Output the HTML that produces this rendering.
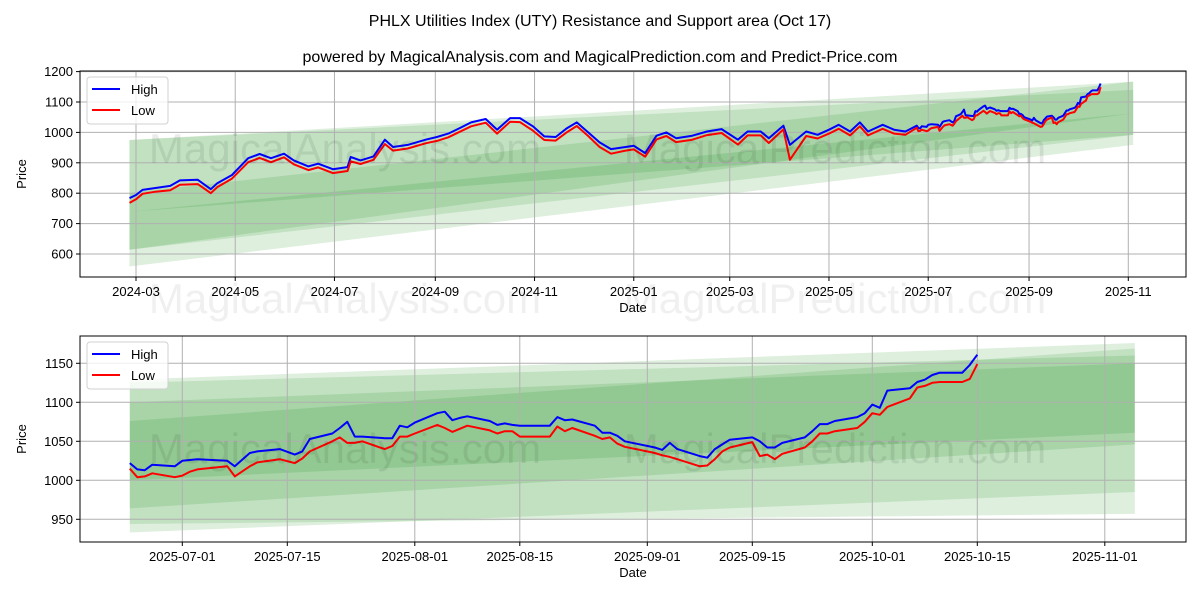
<!DOCTYPE html>
<html><head><meta charset="utf-8"><style>
body{margin:0;background:#fff;}
svg text{font-family:"Liberation Sans","DejaVu Sans",sans-serif;}
</style></head><body>
<svg id="c" width="1200" height="600" xmlns="http://www.w3.org/2000/svg"></svg>
<script>
const earlyDates=["2024-02-26","2024-03-01","2024-03-05","2024-03-13","2024-03-22","2024-03-28","2024-04-08","2024-04-16","2024-04-20","2024-04-29","2024-05-09","2024-05-16","2024-05-23","2024-05-31","2024-06-06","2024-06-15","2024-06-21","2024-06-30","2024-07-09","2024-07-11","2024-07-17","2024-07-25","2024-08-01","2024-08-06","2024-08-15","2024-08-26","2024-09-02","2024-09-09","2024-09-16","2024-09-23","2024-10-02","2024-10-09","2024-10-17","2024-10-23","2024-10-31","2024-11-07","2024-11-14","2024-11-21","2024-11-27","2024-12-04","2024-12-11","2024-12-18","2024-12-27","2025-01-01","2025-01-08","2025-01-15","2025-01-21","2025-01-27","2025-02-06","2025-02-15","2025-02-24","2025-03-06","2025-03-12","2025-03-20","2025-03-25","2025-04-03","2025-04-07","2025-04-17","2025-04-24","2025-05-01","2025-05-07","2025-05-14","2025-05-20","2025-05-25","2025-06-03","2025-06-10","2025-06-17"];
const earlyHigh=[784,794,811,817,824,842,844,813,833,860,915,929,915,930,908,888,897,879,886,919,908,921,976,952,959,976,985,996,1014,1033,1044,1009,1047,1047,1020,987,985,1014,1033,1000,967,945,952,956,932,989,1000,981,989,1003,1011,976,1003,1003,981,1022,959,1003,992,1009,1025,1003,1033,1003,1025,1009,1003];
const earlyLow=[768,780,798,805,810,828,830,800,820,848,902,916,902,918,895,876,885,866,873,905,896,910,962,940,947,964,972,984,1002,1020,1032,996,1035,1034,1006,975,973,1001,1021,988,952,930,940,944,920,977,988,968,976,991,998,960,990,990,965,1010,910,988,980,996,1012,990,1020,990,1012,996,992];
const recentDates=["2025-06-24","2025-06-25","2025-06-26","2025-06-27","2025-06-30","2025-07-01","2025-07-02","2025-07-03","2025-07-07","2025-07-08","2025-07-10","2025-07-11","2025-07-14","2025-07-16","2025-07-17","2025-07-18","2025-07-21","2025-07-22","2025-07-23","2025-07-24","2025-07-25","2025-07-28","2025-07-29","2025-07-30","2025-07-31","2025-08-01","2025-08-04","2025-08-05","2025-08-06","2025-08-07","2025-08-08","2025-08-11","2025-08-12","2025-08-13","2025-08-14","2025-08-15","2025-08-18","2025-08-19","2025-08-20","2025-08-21","2025-08-22","2025-08-25","2025-08-26","2025-08-27","2025-08-28","2025-08-29","2025-09-02","2025-09-03","2025-09-04","2025-09-05","2025-09-08","2025-09-09","2025-09-10","2025-09-11","2025-09-12","2025-09-15","2025-09-16","2025-09-17","2025-09-18","2025-09-19","2025-09-22","2025-09-23","2025-09-24","2025-09-25","2025-09-26","2025-09-29","2025-09-30","2025-10-01","2025-10-02","2025-10-03","2025-10-06","2025-10-07","2025-10-08","2025-10-09","2025-10-10","2025-10-13","2025-10-14","2025-10-15"];
const recentHigh=[1022,1014,1013,1020,1018,1025,1026,1027,1025,1018,1035,1037,1040,1033,1037,1053,1060,1067,1075,1056,1056,1054,1054,1070,1068,1074,1086,1088,1077,1080,1082,1076,1071,1073,1071,1070,1070,1070,1081,1077,1078,1070,1061,1061,1057,1050,1042,1039,1048,1040,1031,1029,1040,1046,1052,1055,1050,1042,1042,1048,1055,1063,1072,1072,1076,1081,1086,1097,1093,1115,1118,1126,1129,1135,1138,1138,1148,1161];
const recentLow=[1015,1004,1005,1009,1004,1006,1011,1014,1018,1005,1018,1023,1027,1022,1028,1037,1050,1055,1048,1048,1050,1040,1044,1056,1056,1060,1071,1067,1062,1066,1070,1064,1060,1063,1063,1056,1056,1056,1069,1063,1067,1057,1053,1055,1047,1043,1035,1032,1030,1027,1018,1019,1027,1037,1042,1049,1031,1033,1027,1034,1042,1050,1060,1060,1063,1067,1075,1086,1084,1094,1105,1119,1121,1125,1126,1126,1130,1149];
const bandStart="2024-02-26", bandEnd="2025-11-04";
const topBands=[[975,739,1167,992],[975,614,1140,1063],[801,559,1167,959],[739,614,1063,992]];
const botBandStart="2025-06-24", botBandEnd="2025-11-05";
const botBands=[[1129,964,1176,1046],[1076,933,1169,985],[1125,944,1160,957],[1100,1000,1150,1061]];
const topYTicks=[600,700,800,900,1000,1100,1200];
const topXTicks=["2024-03-01","2024-05-01","2024-07-01","2024-09-01","2024-11-01","2025-01-01","2025-03-01","2025-05-01","2025-07-01","2025-09-01","2025-11-01"];
const topXLabels=["2024-03","2024-05","2024-07","2024-09","2024-11","2025-01","2025-03","2025-05","2025-07","2025-09","2025-11"];
const botYTicks=[950,1000,1050,1100,1150];
const botXTicks=["2025-07-01","2025-07-15","2025-08-01","2025-08-15","2025-09-01","2025-09-15","2025-10-01","2025-10-15","2025-11-01"];

const NS="http://www.w3.org/2000/svg";
const svg=document.getElementById('c');
function mk(tag,attrs,parent){const e=document.createElementNS(NS,tag);for(const k in attrs)e.setAttribute(k,attrs[k]);(parent||svg).appendChild(e);return e;}
function day(s){return Date.parse(s+"T00:00:00Z")/86400000;}
function txt(x,y,s,size,anchor,parent,extra){const t=mk('text',Object.assign({x:x,y:y,'font-size':size,'text-anchor':anchor||'middle',fill:'#000'},extra||{}),parent);t.textContent=s;return t;}

let t=txt(600,26,"PHLX Utilities Index (UTY) Resistance and Support area (Oct 17)",16);


t=txt(600,62,"powered by MagicalAnalysis.com and MagicalPrediction.com and Predict-Price.com",16);



function panel(name,box,xAxis,yAxis,yTicks,xTicks,xLabels,bands,bs,be,dates,high,low,wmY){
  const g=mk('g',{});
  
  
  const X=d=>xAxis.x0+(day(d)-day(xAxis.d0))*xAxis.k;
  const Y=v=>yAxis.y0-(v-yAxis.v0)*yAxis.k;
  const clipId=name+'-clip';
  const cp=mk('clipPath',{id:clipId},g);mk('rect',{x:box.l,y:box.t,width:box.r-box.l,height:box.b-box.t},cp);
  const inner=mk('g',{'clip-path':'url(#'+clipId+')'},g);
  bands.forEach((b,i)=>{
    const x1=X(bs),x2=X(be);
    const p=mk('polygon',{points:`${x1},${Y(b[0])} ${x2},${Y(b[2])} ${x2},${Y(b[3])} ${x1},${Y(b[1])}`,fill:'rgb(0,128,0)','fill-opacity':0.13},inner);
    
    
  });
  yTicks.forEach(v=>{
    const y=Y(v);
    const l=mk('line',{x1:box.l,x2:box.r,y1:y,y2:y,stroke:'#b0b0b0','stroke-width':1},inner);
    
    
    mk('line',{x1:box.l-4,x2:box.l,y1:y,y2:y,stroke:'#000'},g);
    const tl=txt(box.l-7,y+4.5,String(v),13,'end',g);
    
    
  });
  xTicks.forEach((d,i)=>{
    const x=X(d);
    const l=mk('line',{x1:x,x2:x,y1:box.t,y2:box.b,stroke:'#b0b0b0','stroke-width':1},inner);
    
    
    mk('line',{x1:x,x2:x,y1:box.b,y2:box.b+4,stroke:'#000'},g);
    const tl=txt(x,box.b+19,xLabels[i],13,'middle',g);
    
    
  });
  [[345,'MagicalAnalysis.com'],[835,'MagicalPrediction.com']].forEach(w=>{
    const wm=txt(w[0],wmY,w[1],42,'middle',g,{fill:'#000','fill-opacity':0.08});
    
    
  });
  const hp=dates.map((d,i)=>X(d).toFixed(1)+','+Y(high[i]).toFixed(1)).join(' ');
  const lp=dates.map((d,i)=>X(d).toFixed(1)+','+Y(low[i]).toFixed(1)).join(' ');
  const hl=mk('polyline',{points:hp,fill:'none',stroke:'#0000ff','stroke-width':2,'stroke-linejoin':'round'},inner);
  
  
  const ll=mk('polyline',{points:lp,fill:'none',stroke:'#ff0000','stroke-width':2,'stroke-linejoin':'round'},inner);
  
  
  mk('rect',{x:box.l,y:box.t,width:box.r-box.l,height:box.b-box.t,fill:'none',stroke:'#000','stroke-width':1},g);
  const yt=txt(0,0,'Price',13,'middle',g,{transform:`translate(26,${(box.t+box.b)/2}) rotate(-90)`});
  
  
  const xt=txt((box.l+box.r)/2,box.b+35,'Date',13,'middle',g);
  
  
  const lg=mk('g',{},g);
  
  
  mk('rect',{x:box.l+7,y:box.t+6,width:81,height:47,rx:3,fill:'#fff','fill-opacity':0.8,stroke:'#d0d0d0'},lg);
  mk('line',{x1:box.l+12,x2:box.l+40,y1:box.t+18,y2:box.t+18,stroke:'#0000ff','stroke-width':2},lg);
  const e1=txt(box.l+51,box.t+23,'High',13,'start',lg);
  
  
  mk('line',{x1:box.l+12,x2:box.l+40,y1:box.t+39,y2:box.t+39,stroke:'#ff0000','stroke-width':2},lg);
  const e2=txt(box.l+51,box.t+44,'Low',13,'start',lg);
  
  
}

const allDates=earlyDates.concat(recentDates), allHigh=earlyHigh.concat(recentHigh), allLow=earlyLow.concat(recentLow);
panel('top-panel',{l:80,r:1186,t:71,b:277},{x0:136,d0:'2024-03-01',k:1.6267},{y0:254,v0:600,k:0.304},
  topYTicks,topXTicks,topXLabels,topBands,bandStart,bandEnd,allDates,allHigh,allLow,163);
panel('bottom-panel',{l:80,r:1186,t:336,b:542},{x0:182.3,d0:'2025-07-01',k:7.5},{y0:363.3,v0:1150,k:0.78},
  botYTicks,botXTicks,botXTicks,botBands,botBandStart,botBandEnd,recentDates,recentHigh,recentLow,463);
[[345,'MagicalAnalysis.com'],[835,'MagicalPrediction.com']].forEach(w=>{
  const wm=txt(w[0],313,w[1],42,'middle',svg,{fill:'#000','fill-opacity':0.06});
  
  
});
</script>
</body></html>
